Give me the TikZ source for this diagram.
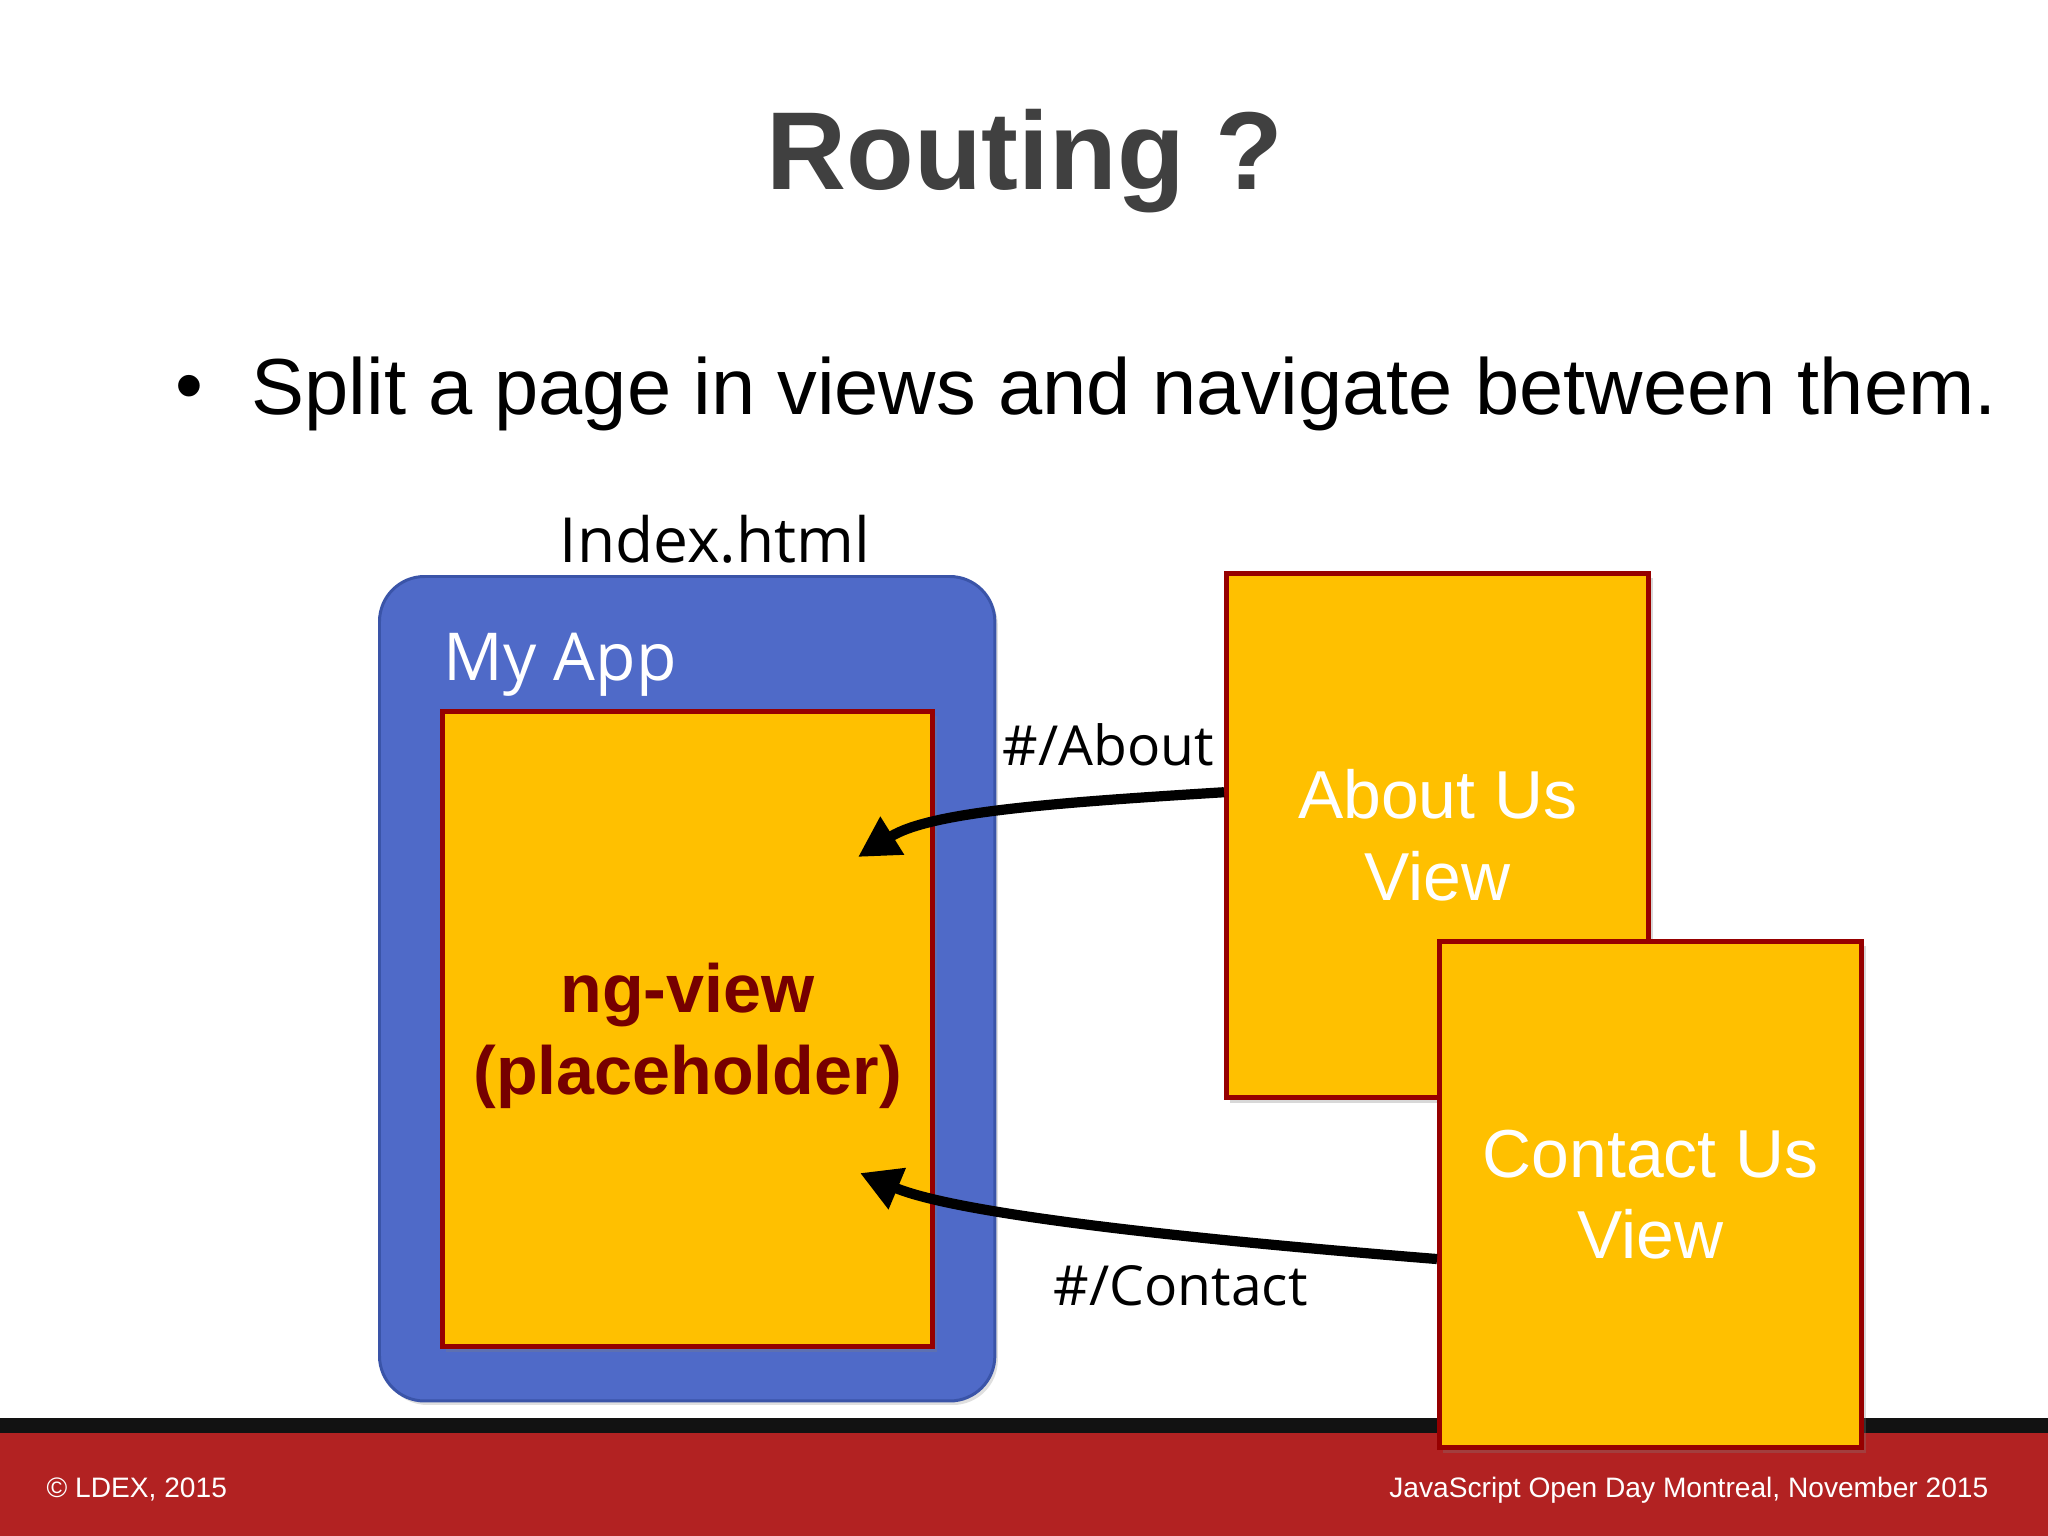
\documentclass[tikz,border=0pt]{standalone}
\usepackage{fontspec}
\setmainfont{Liberation Sans}
\newfontfamily\segoe{Open Sans}
\usetikzlibrary{arrows.meta,calc,shadows}
\definecolor{appblue}{RGB}{79,106,200}
\definecolor{appblueline}{RGB}{58,84,168}
\definecolor{viewyellow}{RGB}{255,192,0}
\definecolor{viewred}{RGB}{150,0,0}
\definecolor{ngred}{RGB}{118,0,0}
\definecolor{footred}{RGB}{178,34,34}
\definecolor{titlegray}{RGB}{64,64,64}
\tikzset{
  viewbox/.style={draw=viewred, line width=1.4pt, fill=viewyellow, inner sep=0pt,
    anchor=north west, align=center,
    drop shadow={shadow xshift=0.04cm, shadow yshift=-0.05cm, opacity=0.3}},
  viewtext/.style={text=white, font=\fontsize{19.3}{23.3}\selectfont},
  route/.style={line width=2.9pt, -{Triangle[length=11.5pt,width=12pt]}},
  seglabel/.style={anchor=base west, inner sep=0pt, font=\segoe\fontsize{15.7}{19}\selectfont},
}
\begin{document}
\begin{tikzpicture}[x=0.01cm,y=-0.01cm]
\useasboundingbox (0,0) rectangle (2048,1536);
\fill[white] (0,0) rectangle (2048,1536);
% title and bullet
\node[anchor=base, inner sep=0pt, text=titlegray, font=\bfseries\fontsize{31.5}{36}\selectfont] (title) at (1025,189) {Routing ?};
\node[inner sep=0pt, font=\fontsize{22.6}{27}\selectfont] (bullet) at (189,394) {•};
\node[anchor=base west, inner sep=0pt, font=\fontsize{22.6}{27}\selectfont] (point) at (251,414) {Split a page in views and navigate between them.};
% footer
\fill[black!93] (0,1418) rectangle (2048,1433);
\fill[footred] (0,1433) rectangle (2048,1536);
\node[anchor=base west, inner sep=0pt, text=white, font=\fontsize{8}{10}\selectfont] (copy) at (46,1497) {© LDEX, 2015};
\node[anchor=base east, inner sep=0pt, text=white, font=\fontsize{8}{10}\selectfont] (event) at (1989,1497) {JavaScript Open Day Montreal, November 2015};
% index.html app
\node[seglabel, font=\segoe\fontsize{17.7}{21}\selectfont] (index) at (559,562) {Index.html};
\node[anchor=north west, inner sep=0pt, fill=appblue, draw=appblueline, line width=0.85pt,
  rounded corners=0.45cm, minimum width=6.15cm, minimum height=8.24cm,
  drop shadow={shadow xshift=0.03cm, shadow yshift=-0.04cm, opacity=0.25}] (app) at (378,575) {};
\node[seglabel, text=white, font=\segoe\fontsize{18.8}{22}\selectfont] (myapp) at (443,680) {My App};
\node[viewbox, minimum width=4.9cm, minimum height=6.35cm] (ngview) at (440,709) {};
\node[align=center, inner sep=0pt, text=ngred, font=\bfseries\fontsize{19.4}{23.3}\selectfont,
  yshift=-0.065cm] (ngtext) at (ngview.center) {ng-view\\(placeholder)};
% views
\node[viewbox, viewtext, minimum width=4.22cm, minimum height=5.24cm] (about) at (1224,571) {About Us\\View};
\node[viewbox, viewtext, minimum width=4.22cm, minimum height=5.06cm] (contact) at (1437,939) {Contact Us\\View};
% routes
\coordinate (tipabout) at (858,857);
\coordinate (tipcontact) at (860,1173);
\draw[route] ($(about.north west)!0.418!(about.south west)$) .. controls (1050,803) and (930,812) .. (tipabout);
\draw[route] ($(contact.north west)!0.626!(contact.south west)$) .. controls (1200,1240) and (960,1215) .. (tipcontact);
\node[seglabel] (labout) at (1002,765) {\#/About};
\node[seglabel] (lcontact) at (1053,1305) {\#/Contact};
\end{tikzpicture}
\end{document}
